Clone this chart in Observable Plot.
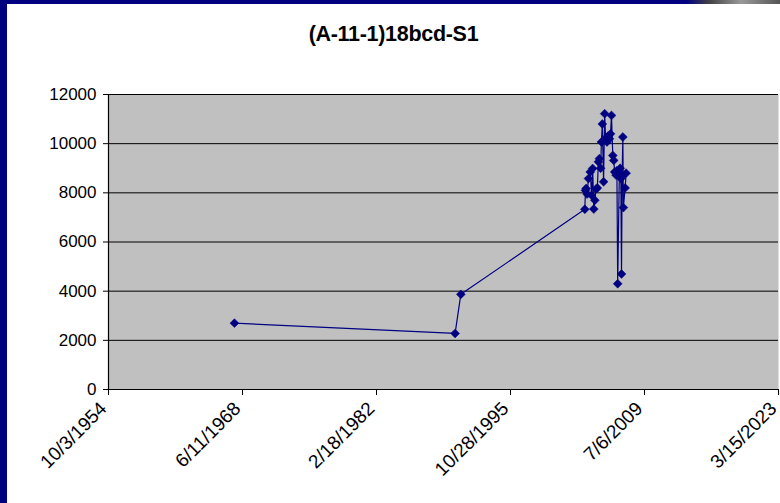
<!DOCTYPE html>
<html>
<head>
<meta charset="utf-8">
<script src="https://cdn.jsdelivr.net/npm/d3@7"></script>
<script src="https://cdn.jsdelivr.net/npm/@observablehq/plot@0.6"></script>
<style>
  html, body { margin: 0; padding: 0; background: #fff; }
  #frame { position: relative; width: 780px; height: 503px; box-sizing: border-box;
           border-left: 7px solid #000080; overflow: hidden; background: #fff; }
  #topbar { position: absolute; left: -7px; top: 0; width: 780px; height: 4px;
            background: linear-gradient(to right, #000080 0%, #000080 88%, #444 91%, #999 95%, #555 100%); }
  #title { height: 64px; box-sizing: border-box; padding-top: 22px; text-align: center;
           font: bold 21.5px "Liberation Sans", Arial, sans-serif; color: #000; letter-spacing: -0.3px; }
  svg { display: block; }
</style>
</head>
<body>
<div id="frame">
  <div id="topbar"></div>
  <div id="title">(A-11-1)18bcd-S1</div>
  <div id="chart"></div>
</div>
<script>
// Sample dates and values
const dates = [
  "1967-08-15", "1990-03-01", "1990-10-01",
  "2003-06-01", "2003-06-25", "2003-07-20", "2003-08-25", "2003-10-15", "2003-12-20",
  "2004-02-10", "2004-03-20", "2004-05-01", "2004-06-10", "2004-07-20", "2004-09-10",
  "2004-10-20", "2004-11-25", "2005-01-10", "2005-02-10", "2005-03-15", "2005-05-01",
  "2005-06-10", "2005-07-15", "2005-09-05", "2005-10-10", "2005-12-05", "2006-01-15",
  "2006-02-20", "2006-04-10", "2006-05-15", "2006-06-20", "2006-08-10", "2006-09-10",
  "2006-10-10", "2006-12-10", "2007-01-10", "2007-02-05", "2007-03-01", "2007-03-25",
  "2007-04-20", "2007-05-10", "2007-07-15", "2007-08-20"
];
const values = [
  2700, 2280, 3870,
  7330, 8100, 8180, 7950, 8580, 8850,
  7900, 8990, 7340, 7700, 8150, 8200,
  9260, 9390, 9000, 10070, 10800, 8450,
  11220, 10200, 10070, 10300, 10200, 10400,
  11150, 9520, 9320, 8850, 8720, 8900,
  4300, 8780, 9000, 8580, 4700, 8700,
  10270, 7400, 8200, 8800
];
const xTickLabels = ["10/3/1954", "6/11/1968", "2/18/1982", "10/28/1995", "7/6/2009", "3/15/2023"];
const yTicks = [0, 2000, 4000, 6000, 8000, 10000, 12000];

const parseMDY = s => { const [m, d, y] = s.split("/").map(Number); return new Date(Date.UTC(y, m - 1, d)); };
const xTicks = xTickLabels.map(parseMDY);
const fmt = d => `${d.getUTCMonth() + 1}/${d.getUTCDate()}/${d.getUTCFullYear()}`;

const data = dates.map((s, i) => ({ date: new Date(s + "T00:00:00Z"), value: values[i] }));

const navy = "#000080";
const chart = Plot.plot({
  width: 773,
  height: 439,
  marginTop: 30,
  marginBottom: 114,
  marginLeft: 101,
  marginRight: 2,
  style: { fontFamily: "'Liberation Sans', Arial, sans-serif", fontSize: "17px", color: "#000", background: "transparent" },
  x: { type: "utc", domain: [xTicks[0], xTicks[xTicks.length - 1]] },
  y: { domain: [0, 12000] },
  marks: [
    Plot.frame({ fill: "#c0c0c0", stroke: null }),
    Plot.ruleY(yTicks, { stroke: "#000", strokeWidth: 1 }),
    Plot.ruleX([xTicks[0]], { stroke: "#000", strokeWidth: 1.2 }),
    Plot.axisY({ ticks: yTicks, tickFormat: d => String(d), tickSize: 5, tickPadding: 7, stroke: "#000", strokeOpacity: 1, label: null }),
    Plot.axisX({ ticks: xTicks, tickSize: 6, text: null, stroke: "#000", strokeOpacity: 1, label: null }),
    Plot.axisX({ ticks: xTicks, tickFormat: fmt, tickSize: 0, tickPadding: 12, tickRotate: -45, fontSize: 19, dx: -5, dy: 4, label: null }),
    Plot.line(data, { x: "date", y: "value", stroke: navy, strokeWidth: 1.2 }),
    Plot.dot(data, { x: "date", y: "value", symbol: "diamond2", r: 4, fill: navy, stroke: navy, strokeWidth: 0.5 })
  ]
});
document.getElementById("chart").appendChild(chart);
</script>
</body>
</html>
